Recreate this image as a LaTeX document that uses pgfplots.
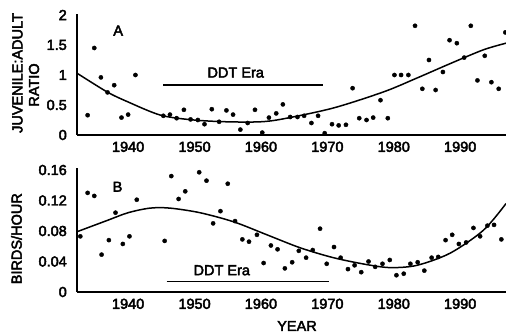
\documentclass[border=0pt]{standalone}
\usepackage{fontspec}
\setmainfont{Liberation Sans}
\newfontfamily\heavy{Liberation Sans}[FakeBold=3]
\usepackage{pgfplots}
\pgfplotsset{compat=1.18}
\newcommand{\lbl}{\heavy\fontsize{14.5bp}{17bp}\selectfont}
\pgfplotsset{
  common/.style={
    scale only axis, width=429bp, xmin=1932.3, xmax=1996.9,
    axis lines*=left, clip=false,
    axis line style={line width=1.2bp},
    xtick={1940,1950,1960,1970,1980,1990},
    major tick length=0pt,
    /pgf/number format/assume math mode=true,
    /pgf/number format/1000 sep={},
    ticklabel style={font=\lbl},
    xticklabel style={inner sep=0pt, anchor=north, yshift=-6.5bp},
    yticklabel style={inner sep=0pt, anchor=east, xshift=-10bp},
    scaled y ticks=false,
  },
  dots/.style={only marks, mark=*, mark size=2.1bp, black},
  fit/.style={black, line width=1.5bp, smooth, no marks},
}
\begin{document}
\begin{tikzpicture}
\useasboundingbox (0,0) rectangle (506bp,336bp);
% Panel A
\begin{axis}[common, at={(77bp,201bp)}, anchor=south west, height=121.2bp,
  ymin=0, ymax=2.02, ytick={0,0.5,1,1.5,2}, yticklabels={0,0.5,1,1.5,2}]
\addplot[dots] coordinates {
(1933.9,0.33) (1934.9,1.45) (1935.9,0.96) (1936.9,0.71) (1937.9,0.83)
(1939.0,0.29) (1940.0,0.34) (1941.1,1.00) (1945.3,0.32) (1946.3,0.34)
(1947.3,0.28) (1948.4,0.42) (1949.4,0.26) (1950.5,0.25) (1951.5,0.18)
(1952.6,0.43) (1953.7,0.22) (1954.8,0.41) (1955.8,0.34) (1956.9,0.09)
(1958.0,0.20) (1959.1,0.42) (1960.2,0.04) (1961.2,0.29) (1962.3,0.36)
(1963.3,0.51) (1964.4,0.30) (1965.5,0.30) (1966.5,0.32) (1967.6,0.20)
(1968.6,0.32) (1969.6,0.03) (1970.7,0.18) (1971.7,0.16) (1972.8,0.17)
(1973.8,0.78) (1974.8,0.28) (1975.9,0.25) (1976.9,0.29) (1978.0,0.58)
(1979.1,0.28) (1980.1,1.00) (1981.1,1.00) (1982.2,1.00) (1983.2,1.82)
(1984.3,0.77) (1985.3,1.25) (1986.3,0.75) (1987.4,1.05) (1988.4,1.58)
(1989.5,1.53) (1990.6,1.29) (1991.6,1.82) (1992.6,0.91) (1993.7,1.32)
(1994.7,0.88) (1995.8,0.77) (1996.8,1.71)
};
\addplot[fit] coordinates {
(1932.3,1.03) (1936.8,0.72) (1939.8,0.56) (1944.9,0.33) (1949.9,0.25)
(1954.9,0.22) (1959.9,0.22) (1963.4,0.27) (1970.9,0.45) (1978.5,0.72)
(1983.5,0.95) (1988.5,1.19) (1993.5,1.42) (1996.9,1.53)
};
\addplot[black, line width=1.5bp, no marks] coordinates {(1945.3,0.83) (1969.4,0.83)};
\node[font=\lbl, inner sep=0pt] at (axis cs:1956.2,1.04) {DDT Era};
\node[font=\lbl, inner sep=0pt] at (axis cs:1938.5,1.74) {A};
\end{axis}
% Panel B
\begin{axis}[common, at={(77bp,44bp)}, anchor=south west, height=124.3bp,
  ymin=0, ymax=0.163, ytick={0,0.04,0.08,0.12,0.16}, yticklabels={0,0.04,0.08,0.12,0.16}]
\addplot[dots] coordinates {
(1932.8,0.073) (1933.9,0.130) (1934.9,0.126) (1936.0,0.049) (1937.1,0.068)
(1938.1,0.104) (1939.2,0.063) (1940.2,0.073) (1941.3,0.121) (1945.5,0.067)
(1946.5,0.152) (1947.6,0.122) (1948.6,0.132) (1950.7,0.157) (1951.8,0.146)
(1952.8,0.090) (1953.9,0.106) (1955.0,0.142) (1956.1,0.093) (1957.2,0.069)
(1958.2,0.066) (1959.4,0.075) (1960.4,0.038) (1961.5,0.061) (1962.5,0.056)
(1963.6,0.031) (1964.7,0.039) (1965.7,0.054) (1966.8,0.045) (1967.8,0.055)
(1968.9,0.083) (1969.9,0.037) (1971.0,0.059) (1972.0,0.045) (1973.1,0.030)
(1974.1,0.035) (1975.1,0.026) (1976.2,0.040) (1977.2,0.033) (1978.3,0.037)
(1979.4,0.042) (1980.4,0.022) (1981.5,0.024) (1982.5,0.037) (1983.6,0.039)
(1984.6,0.028) (1985.7,0.045) (1986.7,0.046) (1987.8,0.068) (1988.8,0.075)
(1989.8,0.063) (1990.9,0.065) (1992.0,0.084) (1993.0,0.073) (1994.1,0.087)
(1995.1,0.088) (1996.2,0.069)
};
\addplot[fit] coordinates {
(1932.3,0.079) (1936.9,0.094) (1940.0,0.104) (1943.3,0.110) (1946.3,0.110)
(1950.8,0.104) (1955.9,0.092) (1960.9,0.075) (1965.9,0.058) (1970.9,0.045)
(1975.9,0.036) (1979.5,0.032) (1983.5,0.035) (1988.5,0.051) (1993.5,0.081)
(1996.9,0.116)
};
\addplot[black, line width=1.5bp, no marks] coordinates {(1945.8,0.0135) (1970.2,0.0135)};
\node[font=\lbl, inner sep=0pt] at (axis cs:1954.1,0.0285) {DDT Era};
\node[font=\lbl, inner sep=0pt] at (axis cs:1938.4,0.138) {B};
\end{axis}
\node[font=\lbl, inner sep=0pt, rotate=90] at (17.5bp,263bp) {JUVENILE:ADULT};
\node[font=\lbl, inner sep=0pt, rotate=90] at (34bp,251bp) {RATIO};
\node[font=\lbl, inner sep=0pt, rotate=90] at (16.5bp,97.3bp) {BIRDS/HOUR};
\node[font=\lbl, inner sep=0pt] at (297bp,10bp) {YEAR};
\end{tikzpicture}
\end{document}
